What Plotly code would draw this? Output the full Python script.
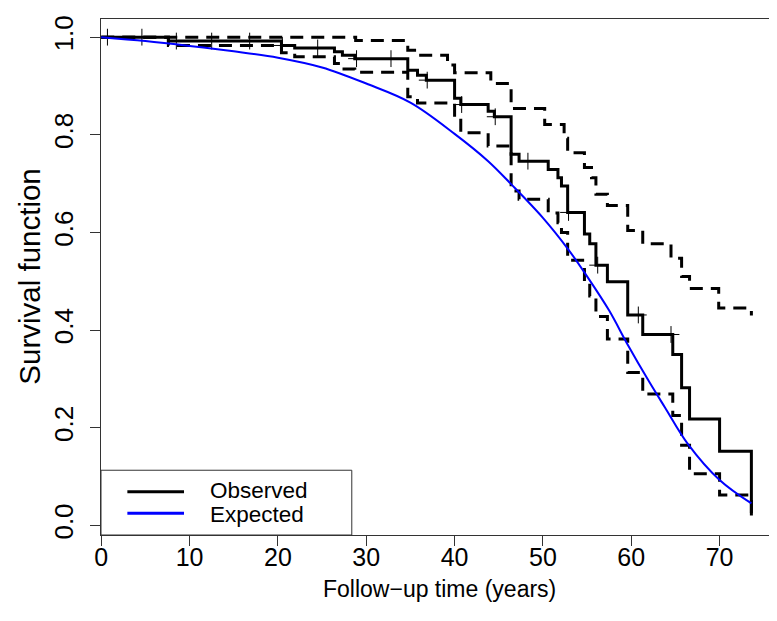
import plotly.graph_objects as go

# Observed Kaplan-Meier (step start times and survival values)
obs_t = [0, 7.6, 20.4, 21.9, 26.4, 27.3, 28.7, 34.7, 35.8, 36.8, 40.0, 40.7, 43.8, 44.5,
         46.4, 47.3, 50.6, 51.7, 52.1, 52.8, 54.7, 55.3, 56.0, 57.3, 59.6, 61.3, 64.7,
         65.7, 66.6, 70.0, 73.6]
obs_s = [1.0, 0.992, 0.983, 0.978, 0.970, 0.963, 0.956, 0.932, 0.922, 0.912, 0.875, 0.862,
         0.848, 0.837, 0.760, 0.746, 0.729, 0.712, 0.695, 0.641, 0.597, 0.577, 0.533, 0.499,
         0.431, 0.391, 0.350, 0.282, 0.218, 0.152, 0.02]

# Upper confidence limit
up_t = [0, 28.8, 34.7, 35.8, 39.2, 40.0, 44.1, 46.4, 50.2, 52.4, 52.8, 54.7, 55.5, 56.0,
        57.3, 59.6, 61.3, 64.5, 65.7, 66.6, 69.9, 73.6]
up_s = [1.0, 0.993, 0.973, 0.963, 0.943, 0.927, 0.905, 0.854, 0.821, 0.793, 0.763, 0.733,
        0.712, 0.678, 0.655, 0.604, 0.577, 0.547, 0.51, 0.485, 0.445, 0.43]

# Lower confidence limit
lo_t = [0, 7.6, 20.4, 21.9, 26.4, 27.3, 28.7, 34.7, 35.8, 40.0, 40.7, 43.8, 46.4, 47.3,
        50.6, 51.7, 52.1, 52.8, 54.7, 55.3, 56.0, 57.3, 59.6, 61.3, 64.7, 65.7, 66.6,
        70.0, 73.6]
lo_s = [1.0, 0.983, 0.968, 0.960, 0.946, 0.935, 0.928, 0.878, 0.865, 0.834, 0.804, 0.777,
        0.685, 0.668, 0.640, 0.620, 0.600, 0.543, 0.500, 0.470, 0.428, 0.382, 0.313,
        0.269, 0.225, 0.164, 0.106, 0.062, 0.02]

# Censoring times
cens_t = [0.7, 4.6, 8.5, 12.5, 16.8, 20.5, 24.5, 28.9, 32.8, 36.9, 40.8, 44.6, 48.3,
          52.9, 56.2, 60.8, 64.5]

# Expected survival (smooth curve)
exp_t = [0, 5, 10, 15, 20, 25, 30, 35, 40, 43.8, 46.4, 50, 52.8, 55, 57.5, 59.6, 62,
         63.8, 66.4, 70, 73.6]
exp_s = [1.0, 0.992, 0.982, 0.971, 0.958, 0.938, 0.905, 0.866, 0.802, 0.746, 0.699,
         0.630, 0.567, 0.510, 0.440, 0.370, 0.295, 0.242, 0.167, 0.093, 0.045]

x_ticks = [0, 10, 20, 30, 40, 50, 60, 70]
y_ticks = [0.0, 0.2, 0.4, 0.6, 0.8, 1.0]
y_ticktext = ["0.0", "0.2", "0.4", "0.6", "0.8", "1.0"]


def step_value(t, ts, ss):
    v = ss[0]
    for ti, si in zip(ts, ss):
        if ti <= t:
            v = si
    return v


cens_s = [step_value(t, obs_t, obs_s) for t in cens_t]

FONT = "Liberation Sans, Arial, sans-serif"

fig = go.Figure()
fig.add_trace(go.Scatter(x=up_t, y=up_s, mode="lines", line_shape="hv",
                         line=dict(color="black", width=3, dash="13px,8px"), showlegend=False))
fig.add_trace(go.Scatter(x=lo_t, y=lo_s, mode="lines", line_shape="hv",
                         line=dict(color="black", width=3, dash="13px,8px"), showlegend=False))
fig.add_trace(go.Scatter(x=obs_t, y=obs_s, mode="lines", line_shape="hv",
                         line=dict(color="black", width=3), showlegend=False))
fig.add_trace(go.Scatter(x=cens_t, y=cens_s, mode="markers",
                         marker=dict(symbol="cross-thin", size=12,
                                     line=dict(color="black", width=1)),
                         showlegend=False))
fig.add_trace(go.Scatter(x=exp_t, y=exp_s, mode="lines", line_shape="spline",
                         line=dict(color="#0000ff", width=2), showlegend=False))

# legend drawn manually (R-style box)
fig.add_shape(type="rect", xref="paper", yref="paper", x0=0, x1=0.371, y0=0, y1=0.1255,
              line=dict(color="#333333", width=1), fillcolor="white", layer="below")
fig.add_shape(type="line", xref="paper", yref="paper", x0=0.039, x1=0.1228, y0=0.084, y1=0.084,
              line=dict(color="black", width=3))
fig.add_shape(type="line", xref="paper", yref="paper", x0=0.039, x1=0.1228, y0=0.0423, y1=0.0423,
              line=dict(color="#0000ff", width=3))
fig.add_annotation(xref="paper", yref="paper", x=0.158, y=0.087, text="Observed",
                   showarrow=False, xanchor="left", yanchor="middle",
                   font=dict(family=FONT, size=22.5, color="black"))
fig.add_annotation(xref="paper", yref="paper", x=0.158, y=0.040, text="Expected",
                   showarrow=False, xanchor="left", yanchor="middle",
                   font=dict(family=FONT, size=22.5, color="black"))

# axis titles
fig.add_annotation(xref="paper", yref="paper", x=0.5, y=-0.105, text="Follow\u2212up time (years)",
                   showarrow=False, xanchor="center", yanchor="middle",
                   font=dict(family=FONT, size=23, color="black"))
fig.add_annotation(xref="paper", yref="paper", x=-0.107, y=0.5, text="Survival function",
                   showarrow=False, xanchor="center", yanchor="middle", textangle=-90,
                   font=dict(family=FONT, size=29.5, color="black"))

fig.update_layout(
    width=777, height=621,
    margin=dict(l=93, r=8, t=7, b=94),
    paper_bgcolor="white", plot_bgcolor="white",
    font=dict(family=FONT, color="black"),
    showlegend=False,
    xaxis=dict(range=[-0.03, 76.5], tickvals=x_ticks, ticks="outside", ticklen=10,
               tickcolor="#333333", showgrid=False, zeroline=False, showline=True,
               mirror=True, linecolor="#333333", linewidth=1,
               tickfont=dict(family=FONT, size=25, color="black"), ticklabelstandoff=-10),
    yaxis=dict(range=[-0.0197, 1.0372], tickvals=y_ticks, ticktext=y_ticktext,
               ticks="outside", ticklen=10, tickangle=-90,
               tickcolor="#333333", showgrid=False, zeroline=False, showline=True,
               mirror=True, linecolor="#333333", linewidth=1,
               tickfont=dict(family=FONT, size=26, color="black"), ticklabelstandoff=7),
)

fig.write_html("out.html")
